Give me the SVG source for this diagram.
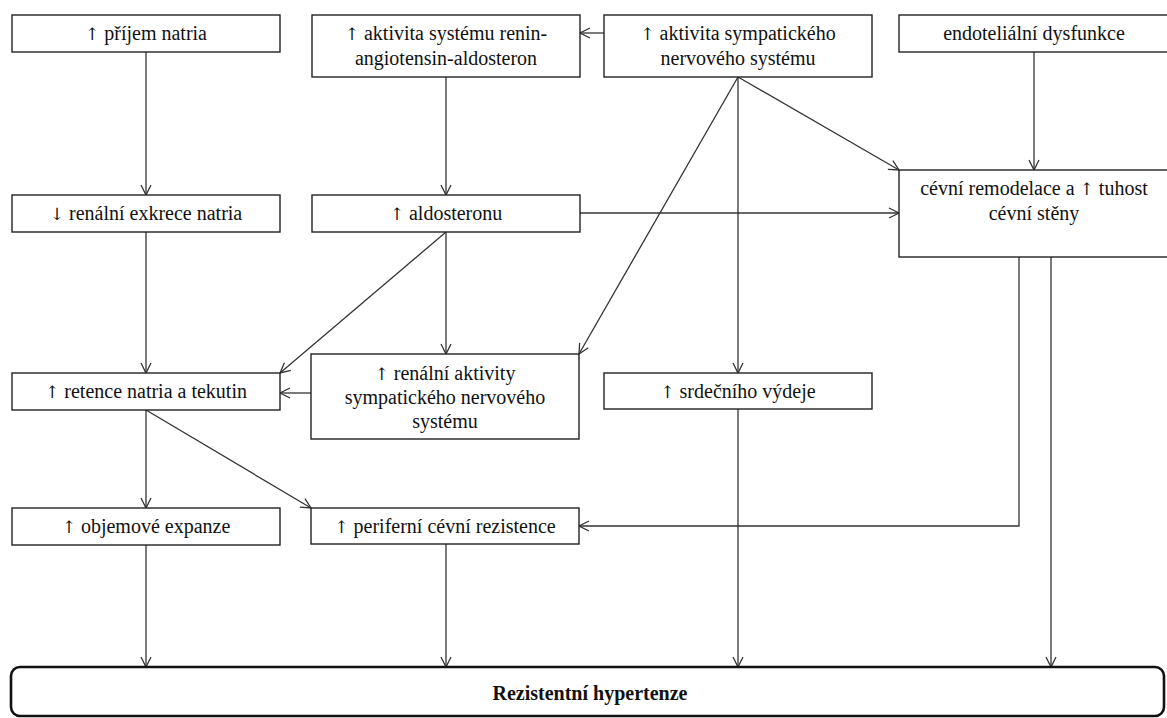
<svg xmlns="http://www.w3.org/2000/svg" width="1167" height="718" viewBox="0 0 1167 718">
<style>
.box{fill:#fff;stroke:#222;stroke-width:1.4}
text{font-family:'Liberation Serif','Times New Roman',serif;font-size:20px;font-weight:normal;fill:#111;text-anchor:middle}
.b{font-weight:bold}
.ar{font-family:'DejaVu Serif','Liberation Serif',serif;font-size:17px}
.c{fill:none;stroke:#333;stroke-width:1.3}
</style>
<defs>
<marker id="ah" markerUnits="userSpaceOnUse" markerWidth="12" markerHeight="12" refX="10" refY="5" orient="auto" viewBox="0 0 12 10" overflow="visible">
<path d="M0,0 L10,5 L0,10" fill="none" stroke="#333" stroke-width="1.3"/>
</marker>
</defs>
<rect width="1167" height="718" fill="#fff"/>
<g id="connectors" class="c" marker-end="url(#ah)">
<path d="M146,52 V195"/>
<path d="M446,77 V195"/>
<path d="M604,33 H580"/>
<path d="M738,77 L899,170"/>
<path d="M738,77 V373"/>
<path d="M738,77 L579,354"/>
<path d="M1034,52 V170"/>
<path d="M580,213 H899"/>
<path d="M146,232 V373"/>
<path d="M446,232 L280,373"/>
<path d="M446,232 V354"/>
<path d="M311,393 H280"/>
<path d="M146,410 V508"/>
<path d="M146,410 L311,508"/>
<path d="M1019,257 V526 H579"/>
<path d="M1051,257 V667"/>
<path d="M738,409 V667"/>
<path d="M146,545 V667"/>
<path d="M446,544 V667"/>
</g>
<g id="n1"><rect class="box" x="12" y="15" width="268" height="37"/><text x="146" y="40"><tspan class="ar">↑</tspan> příjem natria</text></g>
<g id="n2"><rect class="box" x="312" y="15" width="268" height="62"/><text x="446" y="40"><tspan class="ar">↑</tspan> aktivita systému renin-</text><text x="446" y="65">angiotensin-aldosteron</text></g>
<g id="n3"><rect class="box" x="604" y="15" width="268" height="62"/><text x="738" y="40"><tspan class="ar">↑</tspan> aktivita sympatického</text><text x="738" y="65">nervového systému</text></g>
<g id="n4"><rect class="box" x="899" y="15" width="280" height="37"/><text x="1034" y="40">endoteliální dysfunkce</text></g>
<g id="n5"><rect class="box" x="12" y="195" width="268" height="37"/><text x="146" y="220"><tspan class="ar">↓</tspan> renální exkrece natria</text></g>
<g id="n6"><rect class="box" x="312" y="195" width="268" height="37"/><text x="446" y="220"><tspan class="ar">↑</tspan> aldosteronu</text></g>
<g id="n7"><rect class="box" x="899" y="170" width="280" height="87"/><text x="1034" y="195">cévní remodelace a <tspan class="ar">↑</tspan> tuhost</text><text x="1034" y="220">cévní stěny</text></g>
<g id="n8"><rect class="box" x="12" y="373" width="268" height="37"/><text x="146" y="398"><tspan class="ar">↑</tspan> retence natria a tekutin</text></g>
<g id="n9"><rect class="box" x="311" y="354" width="268" height="85"/><text x="445" y="380"><tspan class="ar">↑</tspan> renální aktivity</text><text x="445" y="404">sympatického nervového</text><text x="445" y="428">systému</text></g>
<g id="n10"><rect class="box" x="604" y="373" width="268" height="36"/><text x="738" y="398"><tspan class="ar">↑</tspan> srdečního výdeje</text></g>
<g id="n11"><rect class="box" x="12" y="508" width="268" height="37"/><text x="146" y="533"><tspan class="ar">↑</tspan> objemové expanze</text></g>
<g id="n12"><rect class="box" x="311" y="508" width="268" height="36"/><text x="445" y="533"><tspan class="ar">↑</tspan> periferní cévní rezistence</text></g>
<g id="n13"><rect x="11" y="667" width="1153" height="49" rx="9" fill="#fff" stroke="#111" stroke-width="2.6"/><text class="b" x="590" y="700">Rezistentní hypertenze</text></g>
</svg>
